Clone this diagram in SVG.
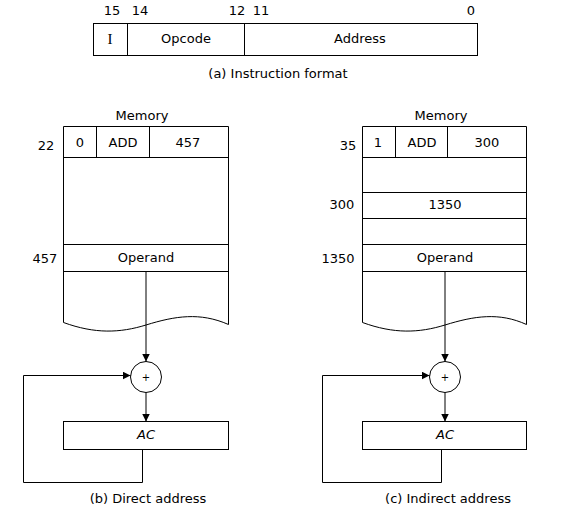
<svg xmlns="http://www.w3.org/2000/svg" width="574" height="513" viewBox="0 0 574 513">
<defs>
<marker id="ah" viewBox="0 0 10 10" refX="10" refY="5" markerWidth="8" markerHeight="8" markerUnits="userSpaceOnUse" orient="auto">
<path d="M0,0 L10,5 L0,10 z" fill="#000"/>
</marker>
<style>
text{font-family:"DejaVu Sans","Liberation Sans",sans-serif;font-size:13px;fill:#000;text-anchor:middle}
.ln{fill:none;stroke:#000;stroke-width:1}
.box{fill:#fff;stroke:#000;stroke-width:1}
.it{font-style:italic}
.sm{font-size:10px}
.serif{font-family:"Liberation Serif",serif;font-size:15px}
</style>
</defs>
<rect width="574" height="513" fill="#fff"/>

<g id="instruction-format">
<rect class="box" x="93.5" y="23.5" width="384" height="32"/>
<line class="ln" x1="127.5" y1="23.5" x2="127.5" y2="55.5"/>
<line class="ln" x1="244.5" y1="23.5" x2="244.5" y2="55.5"/>
<text class="serif" x="110" y="44">I</text>
<text x="186" y="43">Opcode</text>
<text x="360" y="43">Address</text>
<text x="112" y="15">15</text>
<text x="140" y="15">14</text>
<text x="237" y="15">12</text>
<text x="261" y="15">11</text>
<text x="471" y="15">0</text>
<text x="278" y="78">(a) Instruction format</text>
</g>

<g id="memory-b">
<text x="142" y="120">Memory</text>
<path class="ln" d="M63.5,322.5 L63.5,126.5 L228.5,126.5 L228.5,324.5"/>
<path class="ln" d="M63.5,322.5 C95,334 120,333 146,325 C175,316 200,312 228.5,324.5"/>
<line class="ln" x1="63.5" y1="157.5" x2="228.5" y2="157.5"/>
<line class="ln" x1="96.5" y1="126.5" x2="96.5" y2="157.5"/>
<line class="ln" x1="149.5" y1="126.5" x2="149.5" y2="157.5"/>
<line class="ln" x1="63.5" y1="244.5" x2="228.5" y2="244.5"/>
<line class="ln" x1="63.5" y1="271.5" x2="228.5" y2="271.5"/>
<text x="80" y="147">0</text>
<text x="123" y="147">ADD</text>
<text x="188" y="147">457</text>
<text x="146" y="261.5">Operand</text>
<text x="46" y="150">22</text>
<text x="45" y="263">457</text>
</g>

<g id="adder-b">
<circle class="box" cx="146" cy="377" r="15.5"/>
<text class="sm" x="146" y="381">+</text>
</g>

<g id="ac-b">
<rect class="box" x="63.5" y="421.5" width="165" height="28"/>
<text class="it" x="146" y="439">AC</text>
</g>
<text x="148" y="503">(b) Direct address</text>

<g id="memory-c">
<text x="441" y="120">Memory</text>
<path class="ln" d="M362.5,322.5 L362.5,126.5 L526.5,126.5 L526.5,324.5"/>
<path class="ln" d="M362.5,322.5 C394,334 419,333 445,325 C474,316 499,312 526.5,324.5"/>
<line class="ln" x1="362.5" y1="157.5" x2="526.5" y2="157.5"/>
<line class="ln" x1="395.5" y1="126.5" x2="395.5" y2="157.5"/>
<line class="ln" x1="447.5" y1="126.5" x2="447.5" y2="157.5"/>
<line class="ln" x1="362.5" y1="192.5" x2="526.5" y2="192.5"/>
<line class="ln" x1="362.5" y1="218.5" x2="526.5" y2="218.5"/>
<line class="ln" x1="362.5" y1="244.5" x2="526.5" y2="244.5"/>
<line class="ln" x1="362.5" y1="271.5" x2="526.5" y2="271.5"/>
<text x="378" y="147">1</text>
<text x="422" y="147">ADD</text>
<text x="487" y="147">300</text>
<text x="445" y="209">1350</text>
<text x="445" y="261.5">Operand</text>
<text x="348" y="150">35</text>
<text x="342" y="209">300</text>
<text x="338" y="263">1350</text>
</g>

<g id="adder-c">
<circle class="box" cx="445" cy="377" r="15.5"/>
<text class="sm" x="445" y="381">+</text>
</g>

<g id="ac-c">
<rect class="box" x="362.5" y="421.5" width="164" height="28"/>
<text class="it" x="445" y="439">AC</text>
</g>
<text x="448" y="503">(c) Indirect address</text>

<g id="connectors">
<line class="ln" x1="146" y1="271.5" x2="146" y2="361.5" marker-end="url(#ah)"/>
<line class="ln" x1="146" y1="392.5" x2="146" y2="421.5" marker-end="url(#ah)"/>
<polyline class="ln" points="142.5,449.5 142.5,482.5 23.5,482.5 23.5,375.5 130.5,375.5" marker-end="url(#ah)"/>
<line class="ln" x1="445" y1="271.5" x2="445" y2="361.5" marker-end="url(#ah)"/>
<line class="ln" x1="445" y1="392.5" x2="445" y2="421.5" marker-end="url(#ah)"/>
<polyline class="ln" points="441.5,449.5 441.5,482.5 322.5,482.5 322.5,375.5 429.5,375.5" marker-end="url(#ah)"/>
</g>
</svg>
